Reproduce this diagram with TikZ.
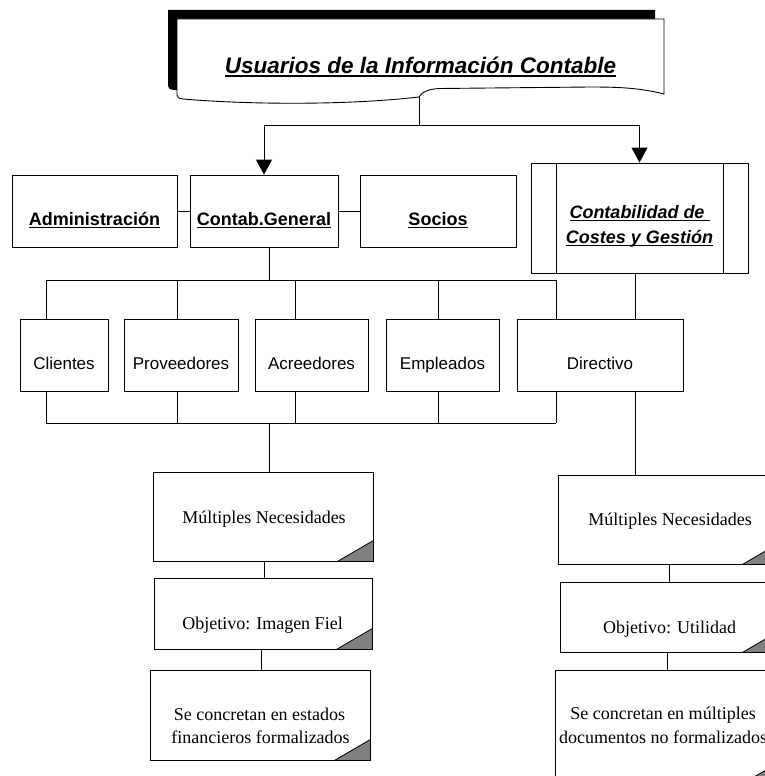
\documentclass[tikz,border=0pt]{standalone}
\usepackage{fontspec}
\setmainfont{Liberation Serif}
\newfontfamily\arialf{Liberation Sans}
\usetikzlibrary{arrows.meta}
\newcommand\ulx[2][1.3pt]{\setbox0\hbox{#2}\rlap{\rule[-2.8pt]{\wd0}{#1}}\box0}
\begin{document}
\begin{tikzpicture}[x=1pt,y=-1pt,
  box/.style={draw=black, line width=0.9pt, fill=white, rectangle, inner sep=0pt},
  lbl/.style={font=\arialf\fontsize{17}{20}\selectfont, inner sep=0pt, anchor=base},
  blbl/.style={font=\arialf\bfseries\fontsize{18}{21}\selectfont, inner sep=0pt, anchor=base},
  bilbl/.style={font=\arialf\bfseries\itshape\fontsize{18}{21}\selectfont, inner sep=0pt, anchor=base},
  tlbl/.style={font=\arialf\bfseries\itshape\fontsize{22.5}{26}\selectfont, inner sep=0pt, anchor=base},
  nlbl/.style={font=\fontsize{18}{23}\selectfont, inner sep=0pt, anchor=base},
  conn/.style={draw=black, line width=0.9pt},
  arr/.style={conn, -{Triangle[width=16pt,length=15pt]}},
  fold/.style={draw=black, line width=0.8pt, fill=black!50},
]
\useasboundingbox (0,0) rectangle (765,776);
\fill[white] (0,0) rectangle (765,776);

% --- title document shape with black shadow
\fill[black, shift={(-9,-9)}] (177,19) -- (664,19) -- (664,94)
  .. controls (640,88) and (620,87) .. (590,87) -- (440,88.5)
  .. controls (428,89) and (422,92) .. (419,97)
  .. controls (340,106) and (240,104) .. (183,99)
  .. controls (179,98.5) and (177,97.5) .. (177,95) -- cycle;
\filldraw[fill=white, draw=black, line width=0.9pt] (177,19) -- (664,19) -- (664,94)
  .. controls (640,88) and (620,87) .. (590,87) -- (440,88.5)
  .. controls (428,89) and (422,92) .. (419,97)
  .. controls (340,106) and (240,104) .. (183,99)
  .. controls (179,98.5) and (177,97.5) .. (177,95) -- cycle;
\node[tlbl] (title) at (420.5,74) {\ulx[1.6pt]{Usuarios de la Información Contable}};
\coordinate (tb) at (419,97);
\coordinate (tj) at (419,125);

% --- second row
\node[box, minimum width=165pt, minimum height=72pt] (adm) at (94.5,211) {};
\node[box, minimum width=148pt, minimum height=72pt] (cg) at (264,211) {};
\node[box, minimum width=156pt, minimum height=72pt] (soc) at (438,211) {};
\node[box, minimum width=217pt, minimum height=110pt] (ccg) at (639.5,218) {};
\draw[line width=0.9pt] (556,163) -- (556,273) (723,163) -- (723,273);
\node[blbl] (admt) at (94.5,225) {\ulx{Administración}};
\node[blbl] (cgt) at (264,225) {\ulx{Contab.General}};
\node[blbl] (soct) at (438,225) {\ulx{Socios}};
\node[bilbl] (ccgt1) at (639.5,218) {\ulx{Contabilidad de\ }};
\node[bilbl] (ccgt2) at (639.5,243) {\ulx{Costes y Gestión}};

\draw[conn] (tb) -- (tj);
\draw[arr] (tj) -| (cg.north);
\draw[arr] (tj) -| (ccg.north);
\draw[conn] (adm.east) -- (cg.west);
\draw[conn] (cg.east) -- (soc.west);

% --- third row
\node[box, minimum width=88pt, minimum height=72pt] (cli) at (64,355) {};
\node[box, minimum width=114pt, minimum height=72pt] (pro) at (181,355) {};
\node[box, minimum width=113pt, minimum height=72pt] (acr) at (311.5,355) {};
\node[box, minimum width=113pt, minimum height=72pt] (emp) at (442.5,355) {};
\node[box, minimum width=166pt, minimum height=72pt] (dir) at (600,355) {};
\node[lbl] (clit) at (64,369) {Clientes};
\node[lbl] (prot) at (181,369) {Proveedores};
\node[lbl] (acrt) at (311.5,369) {Acreedores};
\node[lbl] (empt) at (442.5,369) {Empleados};
\node[lbl] (dirt) at (600,369) {Directivo};

\coordinate (bt) at (269,280);
\coordinate (t1) at (46,280);
\coordinate (t2) at (177,280);
\coordinate (t3) at (295,280);
\coordinate (t4) at (438,280);
\coordinate (t5) at (556,280);
\draw[conn] (bt |- cg.south) -- (bt);
\draw[conn] (t1) -- (t5);
\draw[conn] (t1) -- (t1 |- cli.north);
\draw[conn] (t2) -- (t2 |- pro.north);
\draw[conn] (t3) -- (t3 |- acr.north);
\draw[conn] (t4) -- (t4 |- emp.north);
\draw[conn] (t5) -- (t5 |- dir.north);

\coordinate (ub) at (269,423);
\coordinate (u1) at (46,423);
\coordinate (u2) at (177,423);
\coordinate (u3) at (295,423);
\coordinate (u4) at (438,423);
\coordinate (u5) at (556,423);
\draw[conn] (u1) -- (u5);
\draw[conn] (u1) -- (u1 |- cli.south);
\draw[conn] (u2) -- (u2 |- pro.south);
\draw[conn] (u3) -- (u3 |- acr.south);
\draw[conn] (u4) -- (u4 |- emp.south);
\draw[conn] (u5) -- (u5 |- dir.south);

\coordinate (dx) at (635,0);
\draw[conn] (dx |- ccg.south) -- (dx |- dir.north);

% --- left note column
\node[box, minimum width=220pt, minimum height=89pt] (m1) at (263,516.5) {};
\node[box, minimum width=218pt, minimum height=71pt] (o1) at (263,613.5) {};
\node[box, minimum width=220pt, minimum height=90pt] (s1) at (260,715) {};
\foreach \n in {m1,o1,s1} \draw[fold] (\n.south east) -- ++(-36,0) -- ++(36,-21) -- cycle;
\node[nlbl] (m1t) at (264,523) {Múltiples Necesidades};
\node[nlbl] (o1t) at (262.5,629) {Objetivo: Imagen Fiel};
\node[nlbl] (s1t1) at (259.5,720) {Se concretan en estados};
\node[nlbl] (s1t2) at (260.5,743) {financieros formalizados};
\draw[conn] (ub) -- (ub |- m1.north);
\draw[conn] ([xshift=1pt]m1.south) -- ([xshift=1pt]m1.south |- o1.north);
\draw[conn] ([xshift=-2pt]o1.south) -- ([xshift=-2pt]o1.south |- s1.north);

% --- right note column
\node[box, minimum width=220pt, minimum height=89pt] (m2) at (668,519.5) {};
\node[box, minimum width=218pt, minimum height=70pt] (o2) at (669,617) {};
\node[box, minimum width=220pt, minimum height=115pt] (s2) at (665,727.5) {};
\foreach \n in {m2,o2,s2} \draw[fold] (\n.south east) -- ++(-36,0) -- ++(36,-21) -- cycle;
\node[nlbl] (m2t) at (670,525) {Múltiples Necesidades};
\node[nlbl] (o2t) at (669.5,633) {Objetivo: Utilidad};
\node[nlbl] (s2t1) at (663,719) {Se concretan en múltiples};
\node[nlbl] (s2t2) at (663,743) {documentos no formalizados};
\draw[conn] (dx |- dir.south) -- (dx |- m2.north);
\draw[conn] ([xshift=1pt]m2.south) -- ([xshift=1pt]m2.south |- o2.north);
\draw[conn] ([xshift=-2pt]o2.south) -- ([xshift=-2pt]o2.south |- s2.north);
\end{tikzpicture}
\end{document}
